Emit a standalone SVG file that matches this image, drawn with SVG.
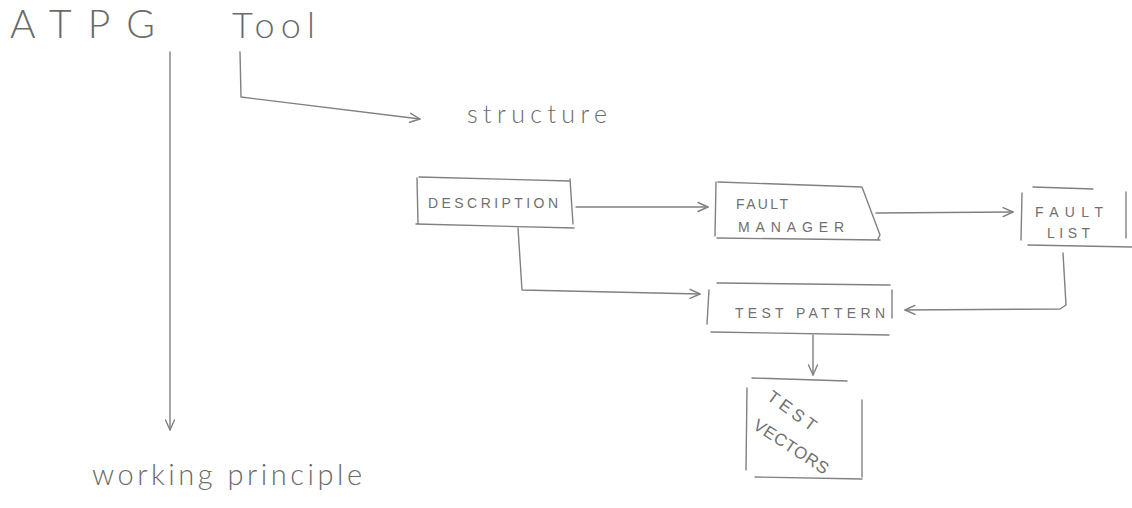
<svg xmlns="http://www.w3.org/2000/svg" width="1132" height="508" viewBox="0 0 1132 508">
  <style>
    .pen { fill: none; stroke: #808080; stroke-width: 1.4; stroke-linecap: round; stroke-linejoin: round; }
    .edge { fill: none; stroke: #808080; stroke-width: 1.4; stroke-linecap: round; stroke-linejoin: round; marker-end: url(#open); }
    .hand { font-family: Lato, "Open Sans", "Liberation Sans", sans-serif; font-weight: 300; fill: #6a6a6a; }
    .caps { font-family: "Liberation Sans", "DejaVu Sans", sans-serif; font-size: 14px; fill: #707070; letter-spacing: 2px; }
    .tilt { font-family: "Liberation Sans", "DejaVu Sans", sans-serif; font-size: 17px; fill: #707070; }
  </style>
  <defs>
    <marker id="open" viewBox="0 0 12 12" refX="11" refY="6" markerWidth="12" markerHeight="12" markerUnits="userSpaceOnUse" orient="auto">
      <path d="M1,1.5 L11,6 L1,10.5" fill="none" stroke="#808080" stroke-width="1.4" stroke-linecap="round" stroke-linejoin="round"/>
    </marker>
  </defs>
  <rect width="1132" height="508" fill="#ffffff"/>

  <!-- headings -->
  <g id="title">
    <text class="hand" x="10" y="38" font-size="39" textLength="145" lengthAdjust="spacing">ATPG</text>
    <text class="hand" x="232" y="38" font-size="36" textLength="83" lengthAdjust="spacing">Tool</text>
  </g>
  <g id="structure">
    <text class="hand" x="467" y="123" font-size="25" textLength="140" lengthAdjust="spacing">structure</text>
  </g>
  <g id="working-principle">
    <text class="hand" x="92" y="485" font-size="29" textLength="270" lengthAdjust="spacing">working principle</text>
  </g>

  <!-- blocks -->
  <g id="description">
    <path class="pen" d="M417,178 L418,224 M419,177 L570,181 M570,179 L573,224 M416,224 L574,228"/>
    <text class="caps" x="428" y="208" textLength="132" lengthAdjust="spacing">DESCRIPTION</text>
  </g>
  <g id="fault-manager">
    <path class="pen" d="M716,182 L715,236 M718,182 L862,187 L880,235 L878,239 M717,238 L880,240"/>
    <text class="caps" x="736" y="209" textLength="54" lengthAdjust="spacing">FAULT</text>
    <text class="caps" x="738" y="232" textLength="108" lengthAdjust="spacing">MANAGER</text>
  </g>
  <g id="fault-list">
    <path class="pen" d="M1022,193 L1021,240 M1126,192 L1126,238 M1033,187 L1093,189 M1028,245 L1132,247"/>
    <text class="caps" x="1035" y="217" textLength="70" lengthAdjust="spacing">FAULT</text>
    <text class="caps" x="1047" y="238" textLength="45" lengthAdjust="spacing">LIST</text>
  </g>
  <g id="test-pattern">
    <path class="pen" d="M709,290 L707,324 M717,283 L890,285 M892,290 L892,318 M711,332 L889,335"/>
    <text class="caps" x="735" y="318" textLength="152" lengthAdjust="spacing">TEST PATTERN</text>
  </g>
  <g id="test-vectors">
    <path class="pen" d="M752,378 L847,381 M747,388 L746,470 M862,400 L862,477 M755,477 L862,479"/>
    <text class="tilt" x="766" y="399" transform="rotate(36 766 399)" textLength="56" lengthAdjust="spacing">TEST</text>
    <text class="tilt" x="752" y="428" transform="rotate(33 752 428)" textLength="86" lengthAdjust="spacing">VECTORS</text>
  </g>

  <!-- connectors -->
  <g id="connectors">
    <path class="edge" d="M170,52 L170,430"/>
    <path class="edge" d="M240,52 L241,97 L420,119"/>
    <path class="edge" d="M576,207 L708,207"/>
    <path class="edge" d="M876,213 L1013,212"/>
    <path class="edge" d="M518,228 L522,290 L700,294"/>
    <path class="edge" d="M1063,253 L1066,305 L1060,309 L905,310"/>
    <path class="edge" d="M813,335 L813,375"/>
  </g>
</svg>
